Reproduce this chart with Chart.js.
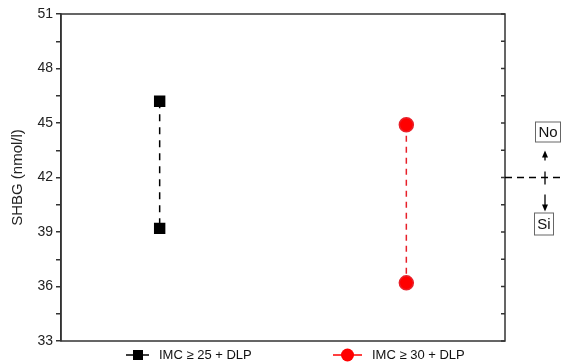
<!DOCTYPE html>
<html>
<head>
<meta charset="utf-8">
<script src="https://cdn.jsdelivr.net/npm/chart.js@4"></script>
<style>
  html, body { margin: 0; padding: 0; background: #fff; }
  #wrap { width: 562px; height: 364px; position: relative; }
</style>
</head>
<body>
<div id="wrap"><canvas id="chart"></canvas></div>
<script>
// Data
const groups = [1, 2];
const seriesLabels = ['IMC \u2265 25 + DLP', 'IMC \u2265 30 + DLP'];
const bmi25Values = [46.2, 39.2];
const bmi30Values = [44.9, 36.2];
const yTicks = [33, 36, 39, 42, 45, 48, 51];
const cutoff = 42; // No / Si threshold

const axisColor = '#333';
const font = 'Liberation Sans, Arial, sans-serif';

// frame, mirror ticks, legend and the No/Si marker
const extras = {
  id: 'extras',
  afterDraw(chart) {
    const { ctx, chartArea: a, scales: { y } } = chart;
    ctx.save();
    ctx.strokeStyle = axisColor;
    ctx.lineWidth = 1.5;
    ctx.strokeRect(a.left, a.top, a.right - a.left, a.bottom - a.top);

    // inward ticks on right side
    for (let v = yTicks[0]; v <= yTicks[yTicks.length - 1]; v += 1.5) {
      const py = y.getPixelForValue(v);
      ctx.beginPath();
      ctx.moveTo(a.right, py);
      ctx.lineTo(a.right - 4, py);
      ctx.stroke();
    }

    // No / Si marker
    const cy = y.getPixelForValue(cutoff);
    const mx = 545;
    ctx.strokeStyle = '#000';
    ctx.lineWidth = 1.3;
    ctx.setLineDash([7, 5]);
    ctx.beginPath();
    ctx.moveTo(a.right, cy);
    ctx.lineTo(562, cy);
    ctx.stroke();
    ctx.setLineDash([]);
    ctx.beginPath();
    ctx.moveTo(mx, cy - 6);
    ctx.lineTo(mx, cy + 7);
    ctx.moveTo(mx, cy - 17);
    ctx.lineTo(mx, cy - 22);
    ctx.moveTo(mx, cy + 17);
    ctx.lineTo(mx, cy + 29);
    ctx.stroke();
    ctx.fillStyle = '#000';
    ctx.beginPath();
    ctx.moveTo(mx, cy - 27); ctx.lineTo(mx - 3, cy - 20); ctx.lineTo(mx + 3, cy - 20); ctx.closePath();
    ctx.moveTo(mx, cy + 34); ctx.lineTo(mx - 3, cy + 27); ctx.lineTo(mx + 3, cy + 27); ctx.closePath();
    ctx.fill();

    ctx.font = '15px ' + font;
    ctx.textAlign = 'center';
    ctx.textBaseline = 'middle';
    ctx.fillStyle = '#111';
    ctx.strokeStyle = '#666';
    ctx.lineWidth = 1;
    ctx.strokeRect(535.5, cy - 55.5, 25, 20);
    ctx.fillText('No', 548, cy - 45);
    ctx.strokeRect(534.5, cy + 35.5, 19, 22);
    ctx.fillText('Si', 544, cy + 47);

    // legend
    const ly = 355;
    const items = [
      { x: 126, w: 23, color: '#000', style: 'rect', label: seriesLabels[0] },
      { x: 333, w: 29, color: '#ff0000', style: 'circle', label: seriesLabels[1] }
    ];
    ctx.font = '13px ' + font;
    ctx.textAlign = 'left';
    items.forEach(it => {
      ctx.strokeStyle = it.color;
      ctx.fillStyle = it.color;
      ctx.lineWidth = 1.5;
      ctx.beginPath();
      ctx.moveTo(it.x, ly);
      ctx.lineTo(it.x + it.w, ly);
      ctx.stroke();
      ctx.beginPath();
      if (it.style === 'rect') ctx.rect(it.x + 7, ly - 5, 10, 10);
      else ctx.arc(it.x + it.w / 2, ly, 6.5, 0, Math.PI * 2);
      ctx.fill();
      ctx.fillStyle = '#111';
      ctx.fillText(it.label, it.x + it.w + 10, ly);
    });
    ctx.restore();
  }
};

new Chart(document.getElementById('chart'), {
  type: 'line',
  data: {
    datasets: [
      {
        label: seriesLabels[0],
        data: bmi25Values.map(v => ({ x: groups[0], y: v })),
        borderColor: '#000',
        backgroundColor: '#000',
        borderWidth: 1.5,
        borderDash: [7, 6],
        pointStyle: 'rect',
        pointRadius: 7,
        pointHoverRadius: 7
      },
      {
        label: seriesLabels[1],
        data: bmi30Values.map(v => ({ x: groups[1], y: v })),
        borderColor: '#e8202a',
        backgroundColor: '#ff0000',
        borderWidth: 1.5,
        borderDash: [6, 5],
        pointStyle: 'circle',
        pointRadius: 7,
        pointHoverRadius: 7
      }
    ]
  },
  options: {
    responsive: true,
    maintainAspectRatio: false,
    animation: false,
    layout: { padding: { left: 9, right: 57, top: 14, bottom: 23 } },
    plugins: { legend: { display: false }, tooltip: { enabled: false } },
    scales: {
      x: { type: 'linear', min: 0.6, max: 2.4, display: false },
      y: {
        min: yTicks[0],
        max: yTicks[yTicks.length - 1],
        afterFit: s => { s.width = 52; },
        afterBuildTicks: s => {
          const t = [];
          for (let v = yTicks[0]; v <= yTicks[yTicks.length - 1]; v += 1.5) t.push({ value: v });
          s.ticks = t;
        },
        ticks: {
          color: '#222',
          font: { family: font, size: 14 },
          padding: 3,
          callback: v => (yTicks.includes(v) ? v : '')
        },
        grid: { drawOnChartArea: false, drawTicks: true, tickLength: 5, color: axisColor, lineWidth: 1.5 },
        border: { display: true, color: axisColor, width: 1.5 },
        title: { display: true, text: 'SHBG (nmol/l)', color: '#222', font: { family: font, size: 15 }, padding: 0 }
      }
    }
  },
  plugins: [extras]
});
</script>
</body>
</html>
